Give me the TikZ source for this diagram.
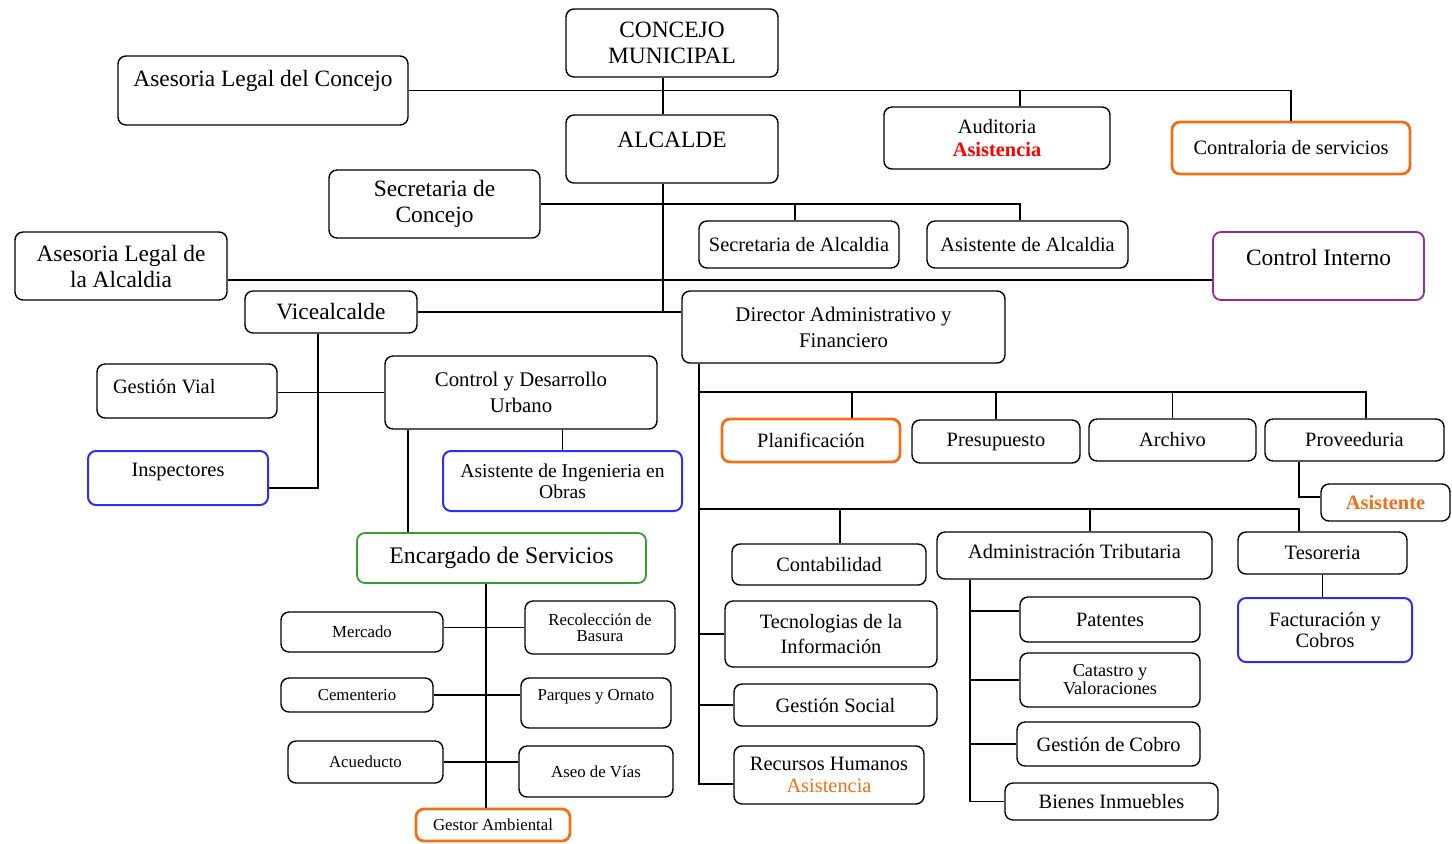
\documentclass[tikz,border=0pt]{standalone}
\usepackage{fontspec}
\setmainfont{Liberation Serif}
\usepackage{tikz}
\definecolor{naranja}{RGB}{240,112,24}
\definecolor{azul}{RGB}{45,45,250}
\definecolor{morado}{RGB}{150,40,160}
\definecolor{verde}{RGB}{50,160,50}
\definecolor{rojo}{RGB}{255,0,0}
\tikzset{every picture/.style={line width=0.7pt}}
\tikzstyle{caja}=[draw,rounded corners=4pt,align=center,inner sep=2pt]
\tikzstyle{grande}=[font=\fontsize{11.7}{13}\selectfont]
\tikzstyle{media}=[font=\fontsize{10.2}{12.5}\selectfont]
\tikzstyle{chica}=[font=\fontsize{8.4}{8}\selectfont]
\tikzstyle{bnaranja}=[draw=naranja,line width=1.4pt]
\tikzstyle{bazul}=[draw=azul,line width=1pt]

\begin{document}
\begin{tikzpicture}[x=0.5pt,y=-0.5pt]
\useasboundingbox (0,0) rectangle (1452,843);
% nivel superior
\node[caja,grande,minimum width=106pt,minimum height=34pt] (conc) at (672,43) {CONCEJO\\MUNICIPAL};
\node[caja,grande,minimum width=145pt,minimum height=34.5pt,text depth=12pt] (aslc) at (263,90.5) {Asesoria Legal del Concejo};
\node[caja,grande,minimum width=106pt,minimum height=34pt,text depth=9pt] (alc) at (672,149) {ALCALDE};
\node[caja,media,minimum width=113pt,minimum height=31pt,font=\fontsize{10.2}{11.5}\selectfont] (audit) at (997,138) {Auditoria\\\textbf{\color{rojo}Asistencia}};
\node[caja,media,bnaranja,minimum width=119pt,minimum height=26pt] (contr) at (1291,148) {Contraloria de servicios};
\node[caja,grande,minimum width=105.5pt,minimum height=34pt] (secc) at (434.5,204) {Secretaria de\\Concejo};
\node[caja,media,minimum width=100pt,minimum height=23.5pt] (seca) at (799,244.5) {Secretaria de Alcaldia};
\node[caja,media,minimum width=100.5pt,minimum height=23.5pt] (asisa) at (1027.5,244.5) {Asistente de Alcaldia};
\node[caja,grande,minimum width=106pt,minimum height=34pt] (asla) at (121,266) {Asesoria Legal de\\la Alcaldia};
\node[caja,grande,draw=morado,line width=0.9pt,minimum width=105.5pt,minimum height=34pt,text depth=9pt] (ctrl) at (1318.5,266) {Control Interno};
\node[caja,grande,minimum width=86pt,minimum height=21pt] (vice) at (331,312) {Vicealcalde};
\node[caja,media,minimum width=161.5pt,minimum height=36pt,font=\fontsize{10.4}{13}\selectfont] (dir) at (843.5,327) {Director Administrativo y\\Financiero};
% vicealcalde
\node[caja,media,align=flush left,text width=74pt,minimum width=90pt,minimum height=27pt,text depth=5pt] (gvial) at (187,391) {Gestión Vial};
\node[caja,media,minimum width=136pt,minimum height=36.5pt,font=\fontsize{10.4}{13}\selectfont] (cdu) at (521,392.5) {Control y Desarrollo\\Urbano};
\node[caja,media,bazul,minimum width=90pt,minimum height=27pt,text depth=8pt] (insp) at (178,478) {Inspectores};
\node[caja,bazul,minimum width=119.5pt,minimum height=30pt,font=\fontsize{9.8}{10.5}\selectfont] (asing) at (562.5,481) {Asistente de Ingenieria en\\Obras};
\node[caja,draw=verde,line width=0.9pt,minimum width=144.5pt,minimum height=25pt,font=\fontsize{11.9}{13}\selectfont] (encs) at (501.5,558) {Encargado de Servicios};
% servicios
\node[caja,chica,minimum width=81pt,minimum height=20pt] (merc) at (362,632) {Mercado};
\node[caja,chica,minimum width=75pt,minimum height=26.5pt] (recol) at (600,627.5) {Recolección de\\Basura};
\node[caja,chica,minimum width=76pt,minimum height=17pt] (cem) at (357,695) {Cementerio};
\node[caja,chica,minimum width=75pt,minimum height=25pt,text depth=8pt] (parq) at (596,703) {Parques y Ornato};
\node[caja,chica,minimum width=77.5pt,minimum height=21pt] (acue) at (365.5,762) {Acueducto};
\node[caja,chica,minimum width=77pt,minimum height=25.5pt] (aseo) at (596,771.5) {Aseo de Vías};
\node[caja,chica,bnaranja,minimum width=77pt,minimum height=16pt] (gest) at (493,825) {Gestor Ambiental};
% director administrativo
\node[caja,media,bnaranja,minimum width=89pt,minimum height=21.5pt] (plan) at (811,440.5) {Planificación};
\node[caja,media,minimum width=84pt,minimum height=21.5pt] (pres) at (996,441.5) {Presupuesto};
\node[caja,media,minimum width=83.5pt,minimum height=21pt] (arch) at (1172.5,440) {Archivo};
\node[caja,media,minimum width=89.5pt,minimum height=21pt] (prov) at (1354.5,440) {Proveeduria};
\node[caja,media,minimum width=64.5pt,minimum height=18.5pt] (asis) at (1385.5,502.5) {\textbf{\color{naranja}Asistente}};
\node[caja,media,minimum width=97pt,minimum height=20.5pt] (conta) at (829,564.5) {Contabilidad};
\node[caja,media,minimum width=137.5pt,minimum height=23.5pt,text depth=4pt] (adm) at (1074.5,555.5) {Administración Tributaria};
\node[caja,media,minimum width=84.5pt,minimum height=21pt] (teso) at (1322.5,553) {Tesoreria};
\node[caja,bazul,minimum width=87pt,minimum height=32pt,font=\fontsize{10.2}{10.5}\selectfont] (fact) at (1325,630) {Facturación y\\Cobros};
\node[caja,media,minimum width=106pt,minimum height=33pt] (tec) at (831,634) {Tecnologias de la\\Información};
\node[caja,media,minimum width=101.5pt,minimum height=21pt] (gsoc) at (835.5,705) {Gestión Social};
\node[caja,minimum width=95pt,minimum height=29pt,font=\fontsize{10.2}{11}\selectfont] (rrhh) at (829,775) {Recursos Humanos\\{\color{naranja}Asistencia}};
\node[caja,media,minimum width=90pt,minimum height=22.5pt] (pat) at (1110,619.5) {Patentes};
\node[caja,minimum width=90pt,minimum height=27pt,font=\fontsize{9.1}{9}\selectfont] (cat) at (1110,680) {Catastro y\\Valoraciones};
\node[caja,media,minimum width=91.5pt,minimum height=22pt] (gcob) at (1108.5,744) {Gestión de Cobro};
\node[caja,media,minimum width=106.5pt,minimum height=18.5pt] (bien) at (1111.5,801.5) {Bienes Inmuebles};
% lineas
\draw (aslc.east) -| (contr.north);
\draw ([xshift=11.5pt]audit.north) -- ([xshift=11.5pt]audit.north |- aslc.east);
\draw ([xshift=-4.5pt]conc.south) -- ([xshift=-4.5pt]alc.north);
\coordinate (tronco) at ([xshift=-4.5pt]alc.south);
\draw (tronco) -- (tronco |- vice.east);
\draw (vice.east) -- (vice.east -| dir.west);
\draw (secc.east) -| ([xshift=-3.75pt]asisa.north);
\draw ([xshift=-2pt]seca.north) -- ([xshift=-2pt]seca.north |- secc.east);
\draw ([yshift=-7pt]asla.east) -- ([yshift=-7pt]ctrl.west);
\draw ([xshift=-6.5pt]vice.south) |- ([yshift=-5pt]insp.east);
\draw (cdu.west) -- (cdu.west -| gvial.east);
\draw (asing.north) -- (asing.north |- cdu.south);
\draw ([xshift=-46.75pt]encs.north) -- ([xshift=-46.75pt]encs.north |- cdu.south);
\coordinate (ev) at ([xshift=-7.75pt]encs.south);
\draw (ev) -- (ev |- gest.north);
\draw (recol.west) -- (recol.west -| merc.east);
\draw (cem.east) -- (cem.east -| parq.west);
\draw (acue.east) -- (acue.east -| aseo.west);
\coordinate (dv) at ([xshift=-72.25pt]dir.south);
\draw (dv) |- ([yshift=-4.5pt]rrhh.west);
\draw (tec.west) -- (tec.west -| dv);
\draw (gsoc.west) -- (gsoc.west -| dv);
\coordinate (fila1) at (699,392);
\draw (fila1) -| ([xshift=5.75pt]prov.north);
\draw ([xshift=20.5pt]plan.north) -- ([xshift=20.5pt]plan.north |- fila1);
\draw (pres.north) -- (pres.north |- fila1);
\draw (arch.north) -- (arch.north |- fila1);
\coordinate (fila2) at (699,509);
\draw (fila2) -| ([xshift=-11.75pt]teso.north);
\draw ([xshift=5.5pt]conta.north) -- ([xshift=5.5pt]conta.north |- fila2);
\draw ([xshift=7.75pt]adm.north) -- ([xshift=7.75pt]adm.north |- fila2);
\draw ([xshift=-27.75pt]prov.south) |- ([yshift=2.75pt]asis.west);
\draw (teso.south) -- (teso.south |- fact.north);
\coordinate (av) at ([xshift=-52.25pt]adm.south);
\draw (av) |- (bien.west);
\draw ([yshift=4.25pt]pat.west) -- +(-25pt,0);
\draw (cat.west) -- (cat.west -| av);
\draw (gcob.west) -- (gcob.west -| av);
\end{tikzpicture}
\end{document}
